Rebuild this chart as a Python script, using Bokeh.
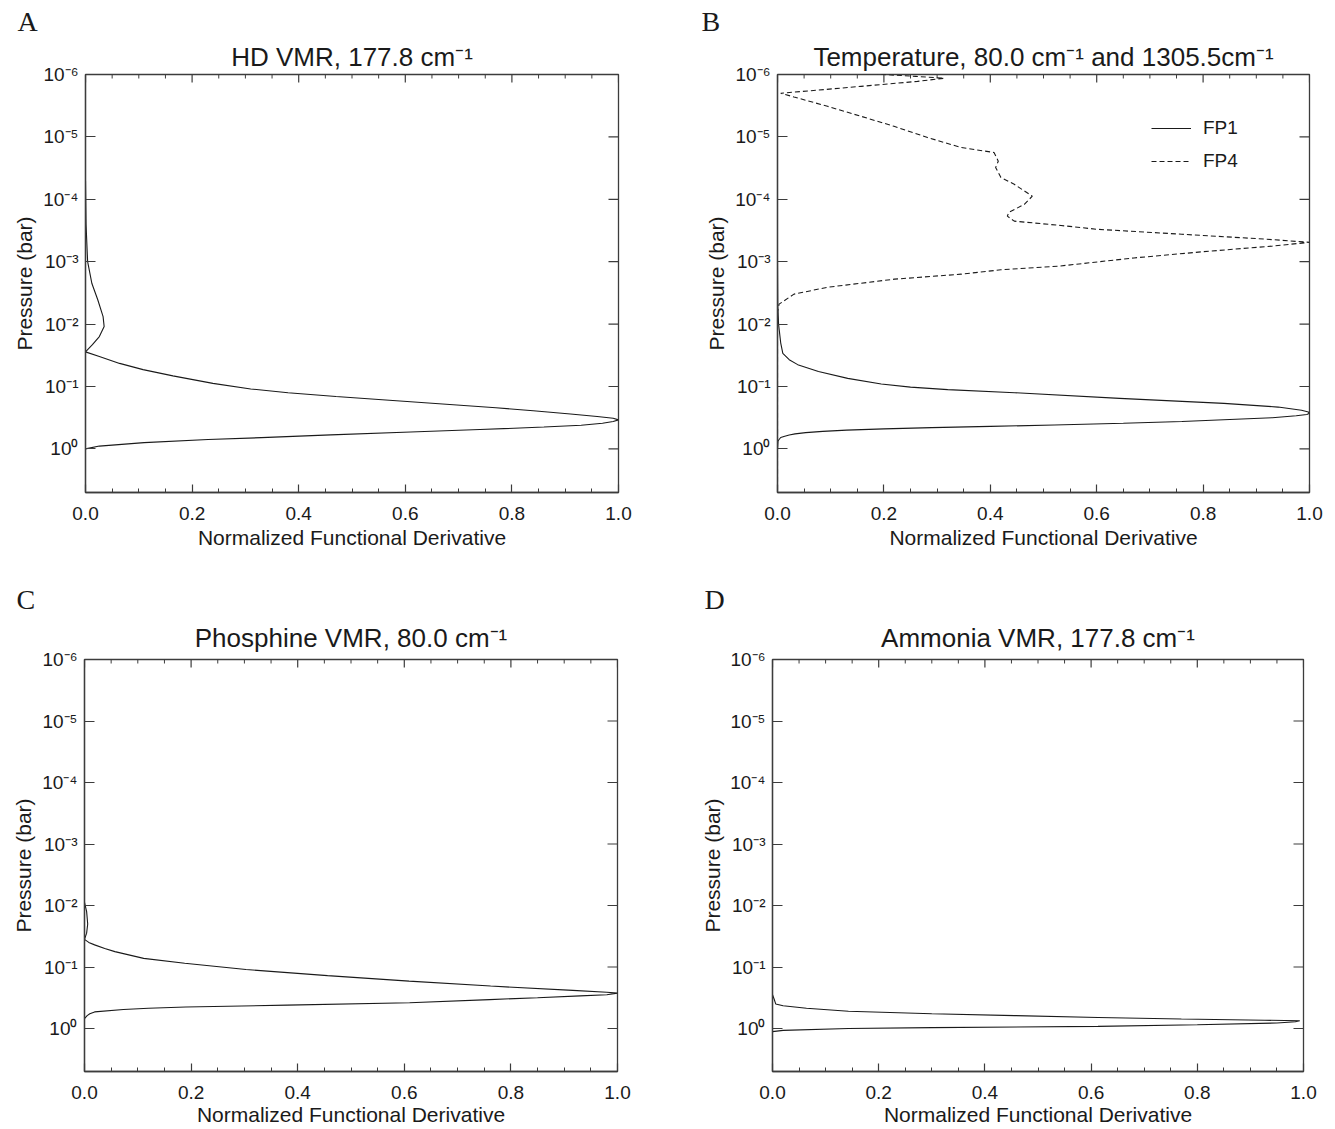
from bokeh.plotting import figure
from bokeh.models import (Range1d, FixedTicker, CustomJSTickFormatter,
                          PrintfTickFormatter, Title, Legend, LegendItem)
from bokeh.layouts import row, column
from bokeh.embed import file_html
from bokeh.resources import INLINE

SANS = "Liberation Sans"
SERIF = "Liberation Serif"
INK = "#1a1a1a"
AXC = "#3c3c3c"

# ---------------- data ----------------
PANEL_LETTERS = ["A", "B", "C", "D"]
PANEL_TITLES = ["HD VMR, 177.8 cm\u207b\u00b9",
                "Temperature, 80.0 cm\u207b\u00b9 and 1305.5cm\u207b\u00b9",
                "Phosphine VMR, 80.0 cm\u207b\u00b9",
                "Ammonia VMR, 177.8 cm\u207b\u00b9"]
X_LABEL = "Normalized Functional Derivative"
Y_LABEL = "Pressure (bar)"
X_TICKS = [0.0, 0.2, 0.4, 0.6, 0.8, 1.0]
X_MINOR_TICKS = [0.05, 0.1, 0.15, 0.25, 0.3, 0.35, 0.45, 0.5,
                 0.55, 0.65, 0.7, 0.75, 0.85, 0.9, 0.95]
Y_TICKS = [1e-6, 1e-5, 1e-4, 1e-3, 1e-2, 1e-1, 1.0]
Y_TICK_LABELS = ["10\u207b\u2076", "10\u207b\u2075", "10\u207b\u2074", "10\u207b\u00b3",
                 "10\u207b\u00b2", "10\u207b\u00b9", "10\u2070"]
Y_TOP = 1e-6
Y_BOTTOM = 5.0

# log10(pressure / bar) and normalized functional derivative
HD_LOGP = [-4.3, -3.6, -3.0, -2.65, -2.39, -2.12, -1.96, -1.80, -1.67, -1.555,
           -1.48, -1.37, -1.27, -1.17, -1.05, -0.96, -0.90, -0.84, -0.78, -0.72,
           -0.66, -0.61, -0.56, -0.52, -0.49, -0.465, -0.44, -0.41, -0.38, -0.35,
           -0.31, -0.27, -0.225, -0.18, -0.15, -0.10, -0.045, 0.0]
HD_FD = [0.0, 0.001, 0.004, 0.012, 0.023, 0.033, 0.035, 0.026, 0.013, 0.0,
         0.026, 0.064, 0.108, 0.164, 0.239, 0.31, 0.38, 0.47, 0.57, 0.67,
         0.77, 0.84, 0.91, 0.96, 0.99, 1.0, 0.99, 0.97, 0.93, 0.86,
         0.74, 0.61, 0.46, 0.33, 0.23, 0.11, 0.026, 0.0]

FP1_LOGP = [-3.0, -2.3, -2.0, -1.7, -1.53, -1.43, -1.35, -1.24, -1.13, -1.04,
            -0.99, -0.95, -0.90, -0.81, -0.73, -0.67, -0.62, -0.59, -0.57, -0.55,
            -0.53, -0.50, -0.47, -0.44, -0.41, -0.383, -0.36, -0.34, -0.32, -0.30,
            -0.28, -0.26, -0.24, -0.223, -0.2, -0.183, -0.15, -0.126, 0.0]
FP1_FD = [0.0, 0.0005, 0.002, 0.006, 0.01, 0.022, 0.038, 0.077, 0.132, 0.195,
          0.25, 0.32, 0.446, 0.643, 0.839, 0.941, 0.985, 0.998, 1.0, 0.995,
          0.975, 0.93, 0.85, 0.76, 0.65, 0.52, 0.40, 0.29, 0.20, 0.13,
          0.085, 0.053, 0.033, 0.022, 0.012, 0.006, 0.003, 0.001, 0.0]

FP4_LOGP = [-6.1, -6.0, -5.97, -5.94, -5.89, -5.81, -5.74, -5.70, -5.64, -5.49,
            -5.33, -5.17, -4.99, -4.83, -4.75, -4.61, -4.51, -4.35, -4.24, -4.05,
            -3.92, -3.79, -3.73, -3.65, -3.58, -3.52, -3.44, -3.36, -3.31, -3.25,
            -3.16, -3.06, -2.93, -2.87, -2.80, -2.72, -2.59, -2.48, -2.32, -2.2, 0.7]
FP4_FD = [0.12, 0.2, 0.26, 0.313, 0.263, 0.157, 0.063, 0.006, 0.031, 0.094,
          0.157, 0.219, 0.282, 0.345, 0.407, 0.415, 0.41, 0.42, 0.445, 0.479,
          0.464, 0.435, 0.432, 0.445, 0.533, 0.6, 0.76, 0.92, 1.0, 0.93,
          0.8, 0.67, 0.53, 0.42, 0.345, 0.22, 0.094, 0.031, 0.003, 0.0, 0.0]

PH3_LOGP = [-2.05, -1.9, -1.7, -1.55, -1.45, -1.40, -1.36, -1.30, -1.25, -1.14,
            -1.06, -0.96, -0.86, -0.77, -0.69, -0.62, -0.59, -0.575, -0.55, -0.53,
            -0.50, -0.47, -0.42, -0.38, -0.35, -0.33, -0.31, -0.27, -0.24, -0.21, -0.16]
PH3_FD = [0.0, 0.004, 0.006, 0.004, 0.0, 0.008, 0.019, 0.038, 0.057, 0.111,
          0.188, 0.303, 0.456, 0.609, 0.762, 0.916, 0.98, 1.0, 0.98, 0.93,
          0.85, 0.76, 0.61, 0.38, 0.19, 0.12, 0.073, 0.019, 0.01, 0.005, 0.0]

NH3_LOGP = [-0.55, -0.48, -0.40, -0.37, -0.33, -0.28, -0.24, -0.21, -0.18, -0.155,
            -0.135, -0.125, -0.11, -0.09, -0.06, -0.035, -0.015, 0.0, 0.03, 0.05]
NH3_FD = [0.0, 0.003, 0.006, 0.02, 0.064, 0.143, 0.3, 0.456, 0.613, 0.77,
          0.927, 0.993, 0.985, 0.95, 0.8, 0.613, 0.3, 0.143, 0.02, 0.0]


def to_p(logp):
    return [10.0 ** v for v in logp]


def style_axis(ax, tick_len, label_standoff):
    ax.axis_line_color = AXC
    ax.axis_line_width = 1.3
    ax.major_tick_line_color = AXC
    ax.major_tick_line_width = 1.2
    ax.minor_tick_line_color = AXC
    ax.minor_tick_line_width = 1.0
    ax.major_tick_in = tick_len
    ax.major_tick_out = 0
    ax.minor_tick_in = 4
    ax.minor_tick_out = 0
    ax.major_label_text_font = SANS
    ax.major_label_text_color = INK
    ax.major_label_text_font_size = "19px"
    ax.major_label_standoff = label_standoff
    ax.axis_label_text_font = SANS
    ax.axis_label_text_font_style = "normal"
    ax.axis_label_text_font_size = "21px"
    ax.axis_label_text_color = INK


def make_panel(i, width, height, bl, br, bt, bb, xa_standoff, ya_standoff,
               title_standoff, letter_offset, letter_standoff):
    p = figure(width=width, height=height, x_range=Range1d(0, 1),
               y_range=Range1d(Y_BOTTOM, Y_TOP), y_axis_type="log",
               output_backend="svg", toolbar_location=None,
               min_border_left=bl, min_border_right=br,
               min_border_top=bt, min_border_bottom=bb)
    p.xgrid.visible = False
    p.ygrid.visible = False
    p.outline_line_color = AXC
    p.outline_line_width = 1.3
    p.background_fill_color = "white"
    p.border_fill_color = "white"

    xb = p.xaxis[0]
    xb.ticker = FixedTicker(ticks=X_TICKS, minor_ticks=X_MINOR_TICKS)
    xb.formatter = PrintfTickFormatter(format="%.1f")
    xb.axis_label = X_LABEL
    style_axis(xb, 8, 14)
    xb.axis_label_standoff = xa_standoff

    yl = p.yaxis[0]
    yl.ticker = FixedTicker(ticks=Y_TICKS, minor_ticks=[])
    yl.formatter = CustomJSTickFormatter(
        args=dict(labels=Y_TICK_LABELS),
        code="const e = Math.round(Math.log10(tick)); return labels[e + 6];")
    yl.axis_label = Y_LABEL
    style_axis(yl, 10, 7)
    yl.axis_label_standoff = ya_standoff

    # mirrored inward ticks on the top and right edges (clipped to the frame)
    p.scatter(X_TICKS, [Y_TOP] * len(X_TICKS), marker="dash", size=16, angle=1.5708,
              line_color=AXC, line_width=1.2)
    p.scatter(X_MINOR_TICKS, [Y_TOP] * len(X_MINOR_TICKS), marker="dash", size=8,
              angle=1.5708, line_color=AXC, line_width=1.0)
    p.scatter([1.0] * len(Y_TICKS), Y_TICKS, marker="dash", size=20,
              line_color=AXC, line_width=1.2)

    # panel letter: the figure's own (outermost) title
    p.title.text = PANEL_LETTERS[i]
    p.title.align = "left"
    p.title.offset = letter_offset
    p.title.standoff = letter_standoff
    p.title.text_font = SERIF
    p.title.text_font_size = "28px"
    p.title.text_font_style = "normal"
    p.title.text_color = INK

    # panel heading, next to the frame
    p.add_layout(Title(text=PANEL_TITLES[i], align="center", standoff=title_standoff,
                       text_font=SANS, text_font_size="26px", text_font_style="normal",
                       text_color=INK), "above")
    return p


pA = make_panel(0, 698, 570, 85, 80, 74, 78, 3, 4, 5, -68, 2)
pA.line(HD_FD, to_p(HD_LOGP), line_color=INK, line_width=1.1)

pB = make_panel(1, 637, 570, 79, 26, 74, 78, 3, 4, 5, -76, 2)
r1 = pB.line(FP1_FD, to_p(FP1_LOGP), line_color=INK, line_width=1.1)
r4 = pB.line(FP4_FD, to_p(FP4_LOGP), line_color=INK, line_width=1.1, line_dash="5 3")
leg = Legend(items=[LegendItem(label="FP1", renderers=[r1]),
                    LegendItem(label="FP4", renderers=[r4])],
             location=(374, 320), glyph_width=40, glyph_height=20, label_height=20,
             spacing=11, padding=0, margin=0, label_standoff=12,
             label_text_font=SANS, label_text_font_size="19px", label_text_color=INK,
             background_fill_alpha=0, border_line_color=None)
pB.add_layout(leg)

pC = make_panel(2, 698, 558, 84, 81, 89, 54, 1, 4, 13, -68, -1)
pC.line(PH3_FD, to_p(PH3_LOGP), line_color=INK, line_width=1.1)

pD = make_panel(3, 637, 558, 73, 32, 89, 54, 1, 3, 13, -68, -1)
pD.line(NH3_FD, to_p(NH3_LOGP), line_color=INK, line_width=1.1)

layout = column(row(pA, pB), row(pC, pD))
open("out.html", "w").write(file_html(layout, INLINE))
